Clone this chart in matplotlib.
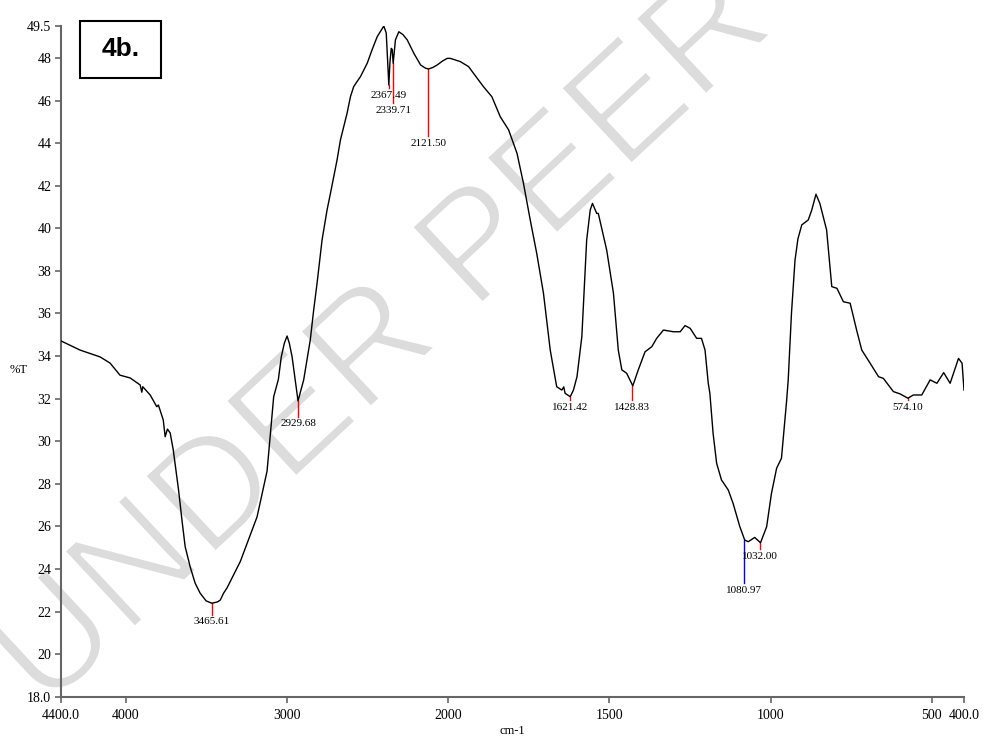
import numpy as np
import matplotlib
matplotlib.use('Agg')
import matplotlib.pyplot as plt
import matplotlib.patheffects as pe
from matplotlib.patches import Rectangle

# espectro IR (numero de onda, %T)
wavenumber = [4400, 4282, 4158, 4096, 4034, 3971, 3909, 3899, 3893, 3847, 3806, 3796,
              3766, 3754, 3740, 3723, 3704, 3671, 3650, 3630, 3599, 3568, 3537, 3500,
              3465, 3430, 3412, 3392, 3371, 3288, 3206, 3184, 3122, 3081, 3052, 3034,
              3015, 2998, 2984, 2967, 2930, 2895, 2864, 2854, 2833, 2812, 2781, 2750,
              2729, 2688, 2667, 2626, 2605, 2585, 2564, 2543, 2501, 2470, 2439, 2398,
              2383, 2375, 2367, 2360, 2352, 2346, 2340, 2333, 2326, 2305, 2280, 2253,
              2212, 2170, 2140, 2121, 2095, 2067, 2035, 2005, 1993, 1962, 1936, 1921,
              1890, 1864, 1838, 1812, 1786, 1766, 1745, 1725, 1704, 1683, 1663, 1647,
              1641, 1637, 1621, 1611, 1600, 1585, 1570, 1559, 1552, 1539, 1534, 1508,
              1487, 1472, 1461, 1446, 1427, 1410, 1389, 1368, 1353, 1332, 1301, 1280,
              1265, 1249, 1229, 1214, 1203, 1193, 1188, 1178, 1167, 1152, 1131, 1116,
              1095, 1080, 1069, 1049, 1031, 1012, 997, 981, 966, 950, 945, 935,
              924, 915, 903, 883, 872, 859, 847, 826, 810, 794, 774, 753,
              733, 717, 691, 665, 650, 619, 598, 574, 557, 531, 505, 484,
              463, 443, 417, 406, 400]
transmittance = [34.71, 34.28, 33.96, 33.67, 33.10, 32.97, 32.64, 32.30, 32.56, 32.17, 31.62, 31.70,
                 31.00, 30.21, 30.57, 30.39, 29.60, 27.71, 26.30, 25.05, 24.10, 23.33, 22.86, 22.50,
                 22.39, 22.45, 22.54, 22.86, 23.10, 24.35, 26.00, 26.45, 28.60, 32.09, 32.90, 33.96,
                 34.60, 34.94, 34.60, 33.97, 31.89, 32.88, 34.29, 34.76, 36.16, 37.42, 39.45, 40.86,
                 41.64, 43.21, 44.15, 45.40, 46.18, 46.65, 46.89, 47.12, 47.75, 48.40, 49.00, 49.50,
                 49.17, 48.00, 46.73, 47.80, 48.45, 48.40, 47.75, 48.30, 48.85, 49.23, 49.10, 48.85,
                 48.22, 47.67, 47.52, 47.48, 47.55, 47.67, 47.85, 47.98, 47.98, 47.83, 47.59, 47.28,
                 46.65, 46.18, 45.24, 44.62, 43.52, 42.11, 40.39, 38.83, 36.95, 34.28, 32.56, 32.40,
                 32.55, 32.25, 32.09, 32.40, 33.03, 34.91, 39.45, 40.86, 41.17, 40.70, 40.70, 38.98,
                 36.95, 34.28, 33.35, 33.19, 32.60, 33.35, 34.20, 34.44, 34.83, 35.22, 35.14, 35.14,
                 35.43, 35.30, 34.83, 34.83, 34.28, 32.72, 32.25, 30.37, 28.96, 28.18, 27.71, 27.08,
                 25.98, 25.36, 25.28, 25.48, 25.23, 25.98, 27.55, 28.73, 29.20, 31.90, 32.90, 36.00,
                 38.50, 39.50, 40.16, 40.39, 40.86, 41.60, 41.17, 39.92, 37.26, 37.18, 36.55, 36.48,
                 35.22, 34.28, 33.66, 33.03, 32.95, 32.33, 32.22, 32.02, 32.17, 32.17, 32.88, 32.72,
                 33.22, 32.72, 33.89, 33.66, 32.40]

# picos marcados
pico_wn = [3465.61, 2929.68, 2367.49, 2339.71, 2121.50, 1621.42, 1428.83, 1080.97, 1032.00, 574.10]
pico_top = [22.39, 31.89, 46.73, 47.75, 47.48, 32.09, 32.60, 25.36, 25.23, 32.02]
pico_bot = [21.86, 31.15, 46.59, 45.88, 44.33, 31.94, 31.94, 23.34, 24.94, 31.94]
pico_color = ['red', 'red', 'red', 'red', 'red', 'red', 'red', 'blue', 'red', 'red']

x_ticks = [4400, 4000, 3000, 2000, 1500, 1000, 500, 400]
x_labels = ['4400.0', '4000', '3000', '2000', '1500', '1000', '500', '400.0']
y_ticks = [18, 20, 22, 24, 26, 28, 30, 32, 34, 36, 38, 40, 42, 44, 46, 48, 49.5]
y_labels = ['18.0'] + [str(v) for v in y_ticks[1:-1]] + ['49.5']


# escala del espectrometro: debajo de 2000 cm-1 el eje se expande al doble
def fwd(x):
    x = np.asarray(x, dtype=float)
    return np.where(x >= 2000, x, 2 * x - 2000)


def inv(y):
    y = np.asarray(y, dtype=float)
    return np.where(y >= 2000, y, (y + 2000) / 2)


serif = 'Liberation Serif'
gris = '#666666'

fig = plt.figure(figsize=(9.84, 7.41), dpi=100)
ax = fig.add_axes([61 / 984, 1 - 696.7 / 741, 903 / 984, 670.7 / 741])

# marca de agua
ax.text(45 / 984, 1 - 712 / 741, 'UNDER PEER REVIEW', transform=fig.transFigure,
        rotation=43, rotation_mode='anchor', ha='left', va='baseline',
        fontsize=110, family='Liberation Sans', color='#dcdcdc', zorder=0, clip_on=False,
        path_effects=[pe.Normal(), pe.Stroke(linewidth=3, foreground='white')])

ax.plot(wavenumber, transmittance, color='black', lw=1.0, zorder=3)

for wn, t0, t1, c in zip(pico_wn, pico_top, pico_bot, pico_color):
    ax.plot([wn, wn], [t0, t1], color=c, lw=1.0, zorder=2)
    ax.annotate(f'{wn:.2f}', xy=(wn, t1), xytext=(0, -2), textcoords='offset points',
                ha='center', va='top', fontsize=8, family=serif, zorder=4)

ax.set_xscale('function', functions=(fwd, inv))
ax.set_xlim(4400, 400)
ax.set_ylim(18, 49.5)
ax.set_xticks(x_ticks)
ax.set_xticklabels(x_labels, family=serif, fontsize=10)
ax.set_yticks(y_ticks)
ax.set_yticklabels(y_labels, family=serif, fontsize=10)
ax.xaxis.set_minor_locator(plt.NullLocator())

for s in ['top', 'right']:
    ax.spines[s].set_visible(False)
for s in ['left', 'bottom']:
    ax.spines[s].set_color(gris)
    ax.spines[s].set_linewidth(1.5)
ax.tick_params(axis='both', direction='out', color=gris, width=1.2, length=4)
ax.tick_params(axis='x', pad=5)
ax.tick_params(axis='y', pad=3)

fig.text(19 / 984, 1 - 370 / 741, '%T', family=serif, fontsize=9, ha='center', va='center')
fig.text(512 / 984, 1 - 731 / 741, 'cm-1', family=serif, fontsize=9, ha='center', va='center')

# recuadro 4b.
fig.patches.append(Rectangle((80 / 984, 1 - 77.7 / 741), 81 / 984, 57 / 741,
                             transform=fig.transFigure, fill=False, edgecolor='black', lw=1.5))
fig.text(120.5 / 984, 1 - 49 / 741, '4b.', family='Liberation Sans', fontweight='bold',
         fontsize=19, ha='center', va='center')

fig.savefig('out.png', dpi=100)
